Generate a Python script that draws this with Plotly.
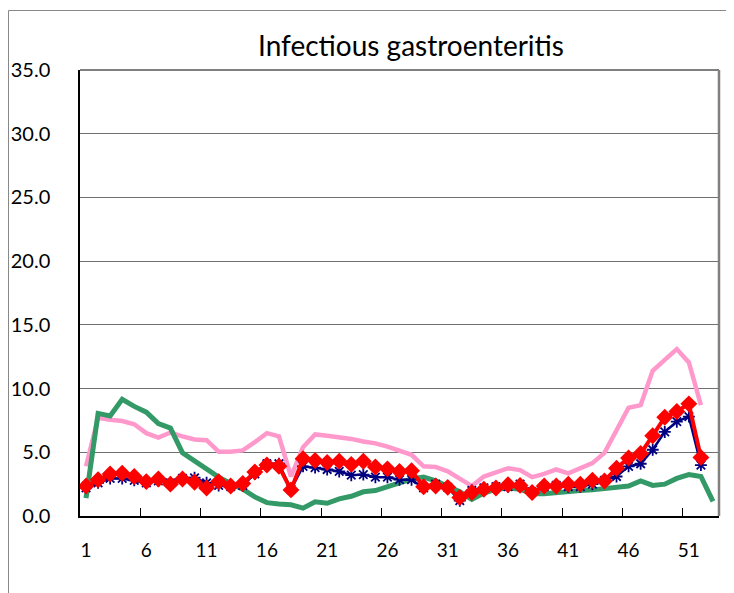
import plotly.graph_objects as go

weeks = list(range(1, 54))
tick_labels = ["1", "6", "11", "16", "21", "26", "31", "36", "41", "46", "51"]
tick_positions = [1, 6, 11, 16, 21, 26, 31, 36, 41, 46, 51]
boundary_ticks = [5.5, 10.5, 15.5, 20.5, 25.5, 30.5, 35.5, 40.5, 45.5, 50.5]

pink_vals = [3.9, 7.7, 7.55, 7.45, 7.2, 6.5, 6.15, 6.55, 6.25, 6.0, 5.95, 5.05, 5.05, 5.15,
             5.8, 6.5, 6.25, 3.1, 5.4, 6.4, 6.3, 6.2, 6.05, 5.85, 5.7, 5.45, 5.1, 4.8,
             3.9, 3.85, 3.5, 2.9, 2.35, 3.1, 3.45, 3.75, 3.6, 3.05, 3.3, 3.65, 3.35, 3.75,
             4.15, 4.95, 6.7, 8.5, 8.7, 11.4, 12.25, 13.1, 12.05, 8.7]

green_vals = [1.4, 8.05, 7.85, 9.15, 8.6, 8.15, 7.25, 6.9, 4.95, 4.3, 3.65, 3.05, 2.55, 2.1,
              1.5, 1.05, 0.95, 0.88, 0.62, 1.12, 1.0, 1.35, 1.55, 1.9, 2.0, 2.25, 2.6, 2.9,
              3.05, 2.75, 2.35, 1.9, 1.3, 1.8, 2.1, 2.2, 2.1, 1.75, 1.75, 1.85, 1.9, 2.0,
              2.05, 2.15, 2.2, 2.35, 2.75, 2.4, 2.5, 2.95, 3.25, 3.1, 1.15]

navy_vals = [2.2, 2.6, 2.95, 2.95, 2.8, 2.6, 2.75, 2.6, 2.95, 3.0, 2.6, 2.4, 2.3, 2.4,
             3.3, 4.1, 4.1, 2.1, 3.9, 3.8, 3.65, 3.5, 3.2, 3.25, 3.05, 3.05, 2.85, 2.85,
             2.2, 2.5, 2.25, 1.2, 2.0, 2.2, 2.3, 2.3, 2.5, 1.9, 2.3, 2.4, 2.3, 2.3,
             2.5, 2.8, 3.1, 3.9, 4.1, 5.2, 6.6, 7.4, 7.8, 4.0]

red_vals = [2.35, 2.85, 3.3, 3.35, 3.1, 2.7, 2.9, 2.5, 2.9, 2.65, 2.2, 2.7, 2.35, 2.55,
            3.45, 4.0, 3.9, 2.05, 4.5, 4.35, 4.2, 4.3, 4.05, 4.3, 3.85, 3.7, 3.5, 3.55,
            2.3, 2.35, 2.25, 1.45, 1.85, 2.1, 2.2, 2.45, 2.4, 1.85, 2.35, 2.35, 2.5, 2.5,
            2.8, 2.75, 3.75, 4.55, 4.9, 6.3, 7.75, 8.2, 8.8, 4.6]

FONT = "Lato"

fig = go.Figure()
fig.add_trace(go.Scatter(x=weeks[:len(pink_vals)], y=pink_vals, mode="lines",
                         line=dict(color="#FF99CC", width=4.5), showlegend=False))
fig.add_trace(go.Scatter(x=weeks[:len(green_vals)], y=green_vals, mode="lines",
                         line=dict(color="#339966", width=5), showlegend=False))
fig.add_trace(go.Scatter(x=weeks[:len(navy_vals)], y=navy_vals, mode="lines+markers",
                         line=dict(color="#000080", width=2.5),
                         marker=dict(symbol="asterisk-open", size=10,
                                     line=dict(color="#000080", width=1.8)),
                         showlegend=False))
fig.add_trace(go.Scatter(x=weeks[:len(red_vals)], y=red_vals, mode="lines+markers",
                         line=dict(color="#FF0000", width=4),
                         marker=dict(symbol="diamond", size=13, color="#FF0000"),
                         showlegend=False))

fig.update_xaxes(range=[0.5, 53.5], tickmode="array", tickvals=tick_positions,
                 ticktext=tick_labels, ticks="", showgrid=False, zeroline=False,
                 showline=True, linecolor="black", linewidth=2, automargin=False,
                 minor=dict(tickmode="array", tickvals=boundary_ticks, ticks="inside",
                            ticklen=8, tickwidth=1, tickcolor="black", showgrid=False),
                 ticklabelstandoff=16,
                 tickfont=dict(family=FONT, size=19, color="black"))
fig.update_yaxes(range=[0, 35], tickmode="linear", tick0=0, dtick=5, tickformat=".1f",
                 showgrid=True, gridcolor="#707070", gridwidth=1, zeroline=False,
                 showline=True, linecolor="black", linewidth=1.5, ticks="",
                 ticklabelstandoff=24, automargin=False,
                 tickfont=dict(family=FONT, size=20, color="black"))

# The page body adds an 8 px offset; figure coordinates below account for it.
ML, MT, PW, PH = 72, 62, 639, 446

def px_x(fx):
    return (fx - ML) / PW

def px_y(fy):
    return (MT + PH - fy) / PH

shapes = [
    dict(type="line", xref="paper", yref="paper", x0=1, x1=1, y0=0, y1=1,
         line=dict(color="#808080", width=2.5)),
    dict(type="line", xref="paper", yref="paper", x0=0, x1=1, y0=1, y1=1,
         line=dict(color="#808080", width=2)),
    dict(type="line", xref="paper", yref="paper", x0=px_x(0.5), x1=px_x(740),
         y0=px_y(2.5), y1=px_y(2.5), line=dict(color="#888888", width=1)),
    dict(type="line", xref="paper", yref="paper", x0=px_x(0.5), x1=px_x(0.5),
         y0=px_y(2.5), y1=px_y(600), line=dict(color="#888888", width=1)),
]

fig.update_layout(
    width=734, height=593,
    margin=dict(l=ML, r=734 - ML - PW, t=MT, b=593 - MT - PH, autoexpand=False),
    paper_bgcolor="white", plot_bgcolor="white",
    title=dict(text="Infectious gastroenteritis", x=403 / 734, xanchor="center",
               y=1 - 38 / 593, yanchor="middle", xref="container", yref="container",
               font=dict(family=FONT, size=28, color="black")),
    shapes=shapes,
    showlegend=False,
)

fig.write_html("out.html")
